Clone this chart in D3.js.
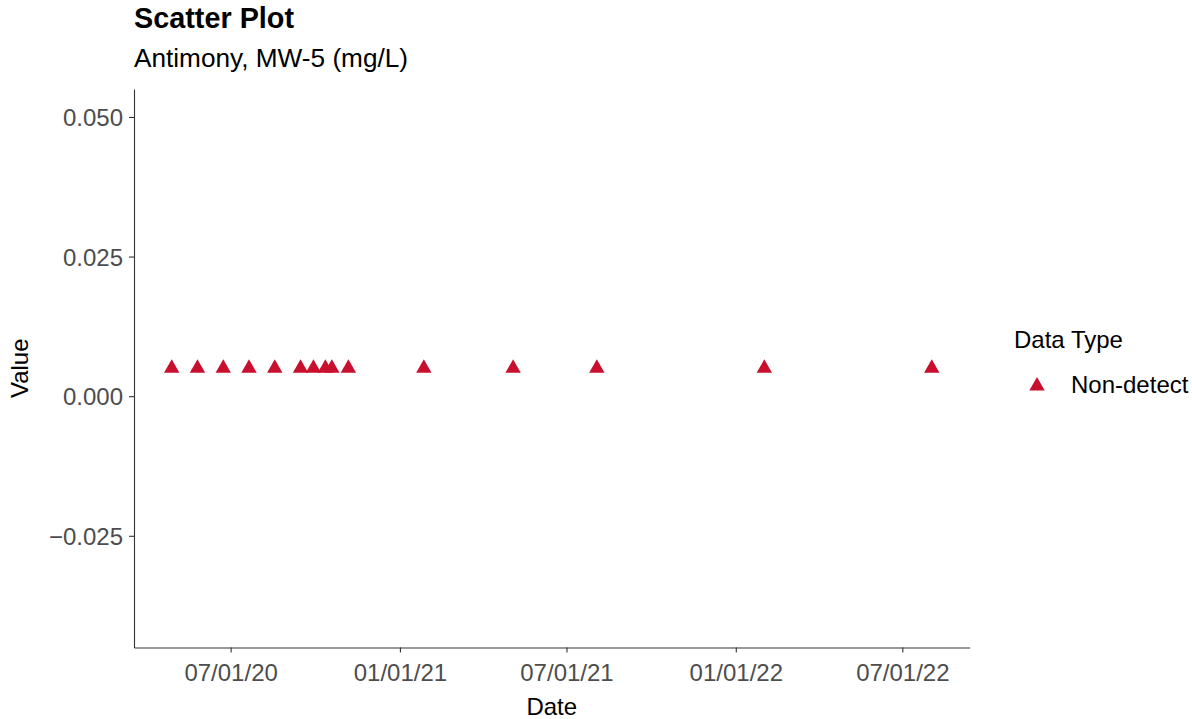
<!DOCTYPE html>
<html><head><meta charset="utf-8">
<script src="https://cdn.jsdelivr.net/npm/d3@7"></script>
<style>body{margin:0;background:#fff;} text{font-family:"Liberation Sans",Arial,sans-serif;}</style>
</head><body><svg id="c" width="1192" height="719"></svg>
<script>
const dates = ["2020-04-28","2020-05-26","2020-06-23","2020-07-21","2020-08-18","2020-09-15","2020-09-29","2020-10-12","2020-10-19","2020-11-06","2021-01-27","2021-05-04","2021-08-03","2022-02-01","2022-08-02"];
const values = [0.005,0.005,0.005,0.005,0.005,0.005,0.005,0.005,0.005,0.005,0.005,0.005,0.005,0.005,0.005];
const dataTypes = ["Non-detect"];
const xTicks = ["2020-07-01","2021-01-01","2021-07-01","2022-01-01","2022-07-01"];
const yTicks = [-0.025,0,0.025,0.05];

const parse = d3.utcParse("%Y-%m-%d");
const svg = d3.select("#c");
const L = 134, R = 969.5, T = 89, B = 647.5;
const x = d3.scaleUtc().domain([parse("2020-03-18"), parse("2022-09-12")]).range([L, R]);
const y = d3.scaleLinear().domain([-0.045, 0.055]).range([B, T]);
const col = "#c8102e";
const tri = (r) => `M0,${-r}L${r*0.866},${r/2}L${-r*0.866},${r/2}Z`;

// axes
const xa = svg.append("g").attr("transform",`translate(0,${B})`)
  .call(d3.axisBottom(x).tickValues(xTicks.map(parse)).tickFormat(d3.utcFormat("%m/%d/%y")).tickSize(5).tickPadding(6).tickSizeOuter(0));
const ya = svg.append("g").attr("transform",`translate(${L},0)`)
  .call(d3.axisLeft(y).tickValues(yTicks).tickFormat(d => d3.format(".3f")(d).replace("-", "\u2212")).tickSize(5).tickPadding(6).tickSizeOuter(0));
[xa, ya].forEach(a => {
  a.select(".domain").attr("stroke","#333").attr("stroke-width",1.1);
  a.selectAll(".tick line").attr("stroke","#333").attr("stroke-width",1.1);
  a.selectAll(".tick text").attr("fill","#4d4d4d").attr("font-size",24).attr("font-family","Liberation Sans, Arial, sans-serif");
});
xa.selectAll(".tick text").attr("dy","0.95em");
ya.selectAll(".tick text").attr("dy","0.36em");

// points
svg.append("g").selectAll("path").data(dates).join("path")
  .attr("d", tri(8.9))
  .attr("transform",(d,i)=>`translate(${x(parse(d))},${y(values[i])})`)
  .attr("fill", col);

// titles
svg.append("text").attr("x",134).attr("y",28).attr("font-size",28.8).attr("font-weight","bold").text("Scatter Plot");
svg.append("text").attr("x",134).attr("y",67).attr("font-size",26.2).text("Antimony, MW-5 (mg/L)");
svg.append("text").attr("x",(L+R)/2).attr("y",715).attr("text-anchor","middle").attr("font-size",24).text("Date");
svg.append("text").attr("transform",`translate(28,${(T+B)/2}) rotate(-90)`).attr("text-anchor","middle").attr("font-size",24).text("Value");

// legend
svg.append("text").attr("x",1014).attr("y",348).attr("font-size",24).text("Data Type");
const lg = svg.append("g").selectAll("g").data(dataTypes).join("g");
lg.append("path").attr("d", tri(8.9)).attr("transform",(d,i)=>`translate(1037,${386+i*30})`).attr("fill",col);
lg.append("text").attr("x",1071).attr("y",(d,i)=>393+i*30).attr("font-size",24).text(d=>d);
</script></body></html>
